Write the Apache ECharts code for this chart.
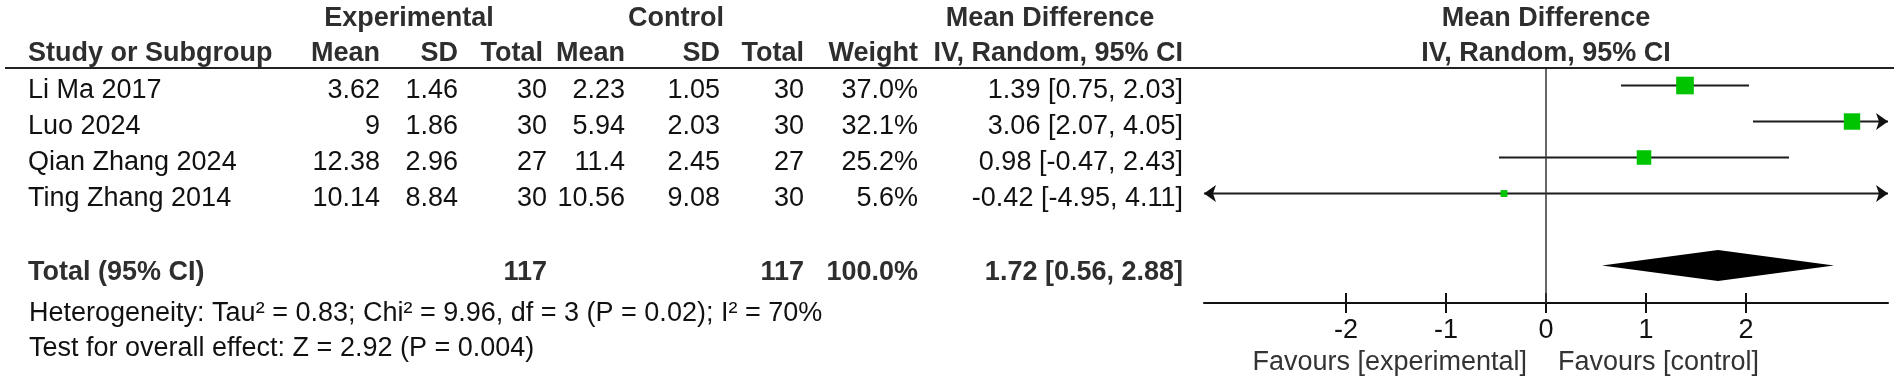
<!DOCTYPE html>
<html><head><meta charset="utf-8">
<script src="https://cdn.jsdelivr.net/npm/echarts@6/dist/echarts.min.js"></script>
<style>html,body{margin:0;padding:0;background:#fff}#c{width:1901px;height:384px}</style>
</head><body><div id="c"></div>
<script>
// ---- data ----
const studies  = ['Li Ma 2017', 'Luo 2024', 'Qian Zhang 2024', 'Ting Zhang 2014'];
const expMean  = [3.62, 9, 12.38, 10.14];
const expSD    = [1.46, 1.86, 2.96, 8.84];
const expN     = [30, 30, 27, 30];
const ctlMean  = [2.23, 5.94, 11.4, 10.56];
const ctlSD    = [1.05, 2.03, 2.45, 9.08];
const ctlN     = [30, 30, 27, 30];
const weight   = [37.0, 32.1, 25.2, 5.6];
const md       = [1.39, 3.06, 0.98, -0.42];
const ciLow    = [0.75, 2.07, -0.47, -4.95];
const ciHigh   = [2.03, 4.05, 2.43, 4.11];
const totalLabel = 'Total (95% CI)';
const totalExpN = 117, totalCtlN = 117, totalWeight = 100.0;
const totalMD = 1.72, totalLow = 0.56, totalHigh = 2.88;
const tickValues = [-2, -1, 0, 1, 2];
const heterogeneityText = 'Heterogeneity: Tau\u00B2 = 0.83; Chi\u00B2 = 9.96, df = 3 (P = 0.02); I\u00B2 = 70%';
const overallText = 'Test for overall effect: Z = 2.92 (P = 0.004)';
const favLeft = 'Favours [experimental]', favRight = 'Favours [control]';

// ---- layout ----
const X_MIN = -3.42, X_MAX = 3.42;
const TOTAL_ROW = 5;
const Y_MIN = -0.5, Y_MAX = 6.04;
const FONT = 'Liberation Sans, Arial, sans-serif';
const FS = 27;
const cols = [
  {x: 28, align: 'left'}, {x: 380, align: 'right'}, {x: 458, align: 'right'}, {x: 547, align: 'right'},
  {x: 625, align: 'right'}, {x: 720, align: 'right'}, {x: 804, align: 'right'}, {x: 918, align: 'right'},
  {x: 1183, align: 'right'}
];
const f2 = v => v.toFixed(2);
const ciText = (m, l, h) => f2(m) + ' [' + f2(l) + ', ' + f2(h) + ']';

const cells = [];
studies.forEach((s, i) => {
  const vals = [s, String(expMean[i]), f2(expSD[i]), String(expN[i]), String(ctlMean[i]), f2(ctlSD[i]),
    String(ctlN[i]), weight[i].toFixed(1) + '%', ciText(md[i], ciLow[i], ciHigh[i])];
  vals.forEach((t, c) => cells.push({col: c, row: i, text: t, bold: false, dy: 5}));
});
[[0, totalLabel], [3, String(totalExpN)], [6, String(totalCtlN)], [7, totalWeight.toFixed(1) + '%'],
 [8, ciText(totalMD, totalLow, totalHigh)]].forEach(([c, t]) => cells.push({col: c, row: TOTAL_ROW, text: t, bold: true, dy: 7}));

const chart = echarts.init(document.getElementById('c'), null, {renderer: 'canvas'});

function arrow(x, y, dir) {
  return {type: 'polygon', shape: {points: [[x, y], [x - dir * 12, y - 8.5], [x - dir * 9, y], [x - dir * 12, y + 8.5]]},
    style: {fill: '#111'}};
}

const headerColor = '#2e2e2e';
function htext(text, x, y, align, bold, color, size) {
  return {type: 'text', x: x, y: y, style: {text: text, fill: color || headerColor, align: align, verticalAlign: 'middle',
    font: (bold ? 'bold ' : '') + (size || FS) + 'px ' + FONT}};
}

chart.setOption({
  animation: false,
  backgroundColor: '#fff',
  grid: [
    {left: 1204, right: 13, top: 67.5, bottom: 81},
    {left: 0, right: 0, top: 67.5, bottom: 81}
  ],
  xAxis: [
    {type: 'value', gridIndex: 0, position: 'bottom', min: X_MIN, max: X_MAX, splitLine: {show: false},
     axisLine: {show: true, onZero: false, lineStyle: {color: '#111', width: 2}},
     axisTick: {show: true, length: 10, customValues: tickValues, lineStyle: {color: '#111', width: 2}},
     axisLabel: {show: true, customValues: tickValues, margin: 14, color: '#111', fontSize: FS, fontFamily: FONT}},
    {type: 'value', gridIndex: 0, position: 'bottom', min: X_MIN, max: X_MAX, splitLine: {show: false},
     axisLine: {show: false, onZero: false},
     axisTick: {show: true, inside: true, length: 10, customValues: tickValues, lineStyle: {color: '#111', width: 2}},
     axisLabel: {show: false}},
    {type: 'value', gridIndex: 1, min: 0, max: 1901, show: false}
  ],
  yAxis: [
    {type: 'value', gridIndex: 0, inverse: true, min: Y_MIN, max: Y_MAX, show: false},
    {type: 'value', gridIndex: 1, inverse: true, min: Y_MIN, max: Y_MAX, show: false}
  ],
  series: [
    {
      type: 'custom', xAxisIndex: 0, yAxisIndex: 0, clip: false,
      data: studies.map((s, i) => [md[i], ciLow[i], ciHigh[i], weight[i], i]),
      renderItem: function (params, api) {
        const m = api.value(0), lo = api.value(1), hi = api.value(2), w = api.value(3), r = api.value(4);
        const p1 = api.coord([Math.max(lo, X_MIN), r]);
        const p2 = api.coord([Math.min(hi, X_MAX), r]);
        const pm = api.coord([m, r]);
        const ch = [{type: 'line', shape: {x1: p1[0], y1: p1[1], x2: p2[0], y2: p2[1]},
          style: {stroke: '#1c1c1c', lineWidth: 2}}];
        if (lo < X_MIN) ch.push(arrow(p1[0], p1[1], -1));
        if (hi > X_MAX) ch.push(arrow(p2[0], p2[1], 1));
        const s = 2.9 * Math.sqrt(w);
        ch.push({type: 'rect', shape: {x: pm[0] - s / 2, y: pm[1] - s / 2, width: s, height: s}, style: {fill: '#00c400'}});
        return {type: 'group', children: ch};
      }
    },
    {
      type: 'custom', xAxisIndex: 0, yAxisIndex: 0, clip: false,
      data: [[totalLow, totalMD, totalHigh, TOTAL_ROW]],
      renderItem: function (params, api) {
        const r = api.value(3);
        const a = api.coord([api.value(0), r]), b = api.coord([api.value(1), r]), c = api.coord([api.value(2), r]);
        const h = 15.5;
        return {type: 'polygon', shape: {points: [[a[0], a[1]], [b[0], b[1] - h], [c[0], c[1]], [b[0], b[1] + h]]},
          style: {fill: '#000'}};
      },
      markLine: {silent: true, symbol: 'none', label: {show: false},
        lineStyle: {color: '#333', width: 1.5, type: 'solid'}, data: [{xAxis: 0}]}
    },
    {
      type: 'custom', xAxisIndex: 2, yAxisIndex: 1, clip: false,
      data: cells.map(c => [cols[c.col].x, c.row]),
      renderItem: function (params, api) {
        const cell = cells[params.dataIndex];
        const p = api.coord([api.value(0), api.value(1)]);
        return {type: 'text', x: p[0], y: p[1] + cell.dy,
          style: {text: cell.text, align: cols[cell.col].align, verticalAlign: 'middle',
            fill: cell.bold ? headerColor : '#111', font: (cell.bold ? 'bold ' : '') + FS + 'px ' + FONT}};
      },
      markLine: {silent: true, symbol: 'none', label: {show: false},
        lineStyle: {color: '#222', width: 2, type: 'solid'},
        data: [[{coord: [5, Y_MIN]}, {coord: [1894, Y_MIN]}]]}
    }
  ],
  graphic: [
    htext('Experimental', 409, 19, 'center', true),
    htext('Control', 676, 19, 'center', true),
    htext('Mean Difference', 1050, 19, 'center', true),
    htext('Mean Difference', 1546, 19, 'center', true),
    htext('Study or Subgroup', 28, 54, 'left', true),
    htext('Mean', 380, 54, 'right', true),
    htext('SD', 458, 54, 'right', true),
    htext('Total', 543, 54, 'right', true),
    htext('Mean', 625, 54, 'right', true),
    htext('SD', 720, 54, 'right', true),
    htext('Total', 804, 54, 'right', true),
    htext('Weight', 918, 54, 'right', true),
    htext('IV, Random, 95% CI', 1183, 54, 'right', true),
    htext('IV, Random, 95% CI', 1546, 54, 'center', true),
    htext(heterogeneityText, 29, 314, 'left', false, '#111'),
    htext(overallText, 29, 349, 'left', false, '#111'),
    htext(favLeft, 1527, 363, 'right', false, '#333'),
    htext(favRight, 1558, 363, 'left', false, '#333')
  ]
});
</script></body></html>
